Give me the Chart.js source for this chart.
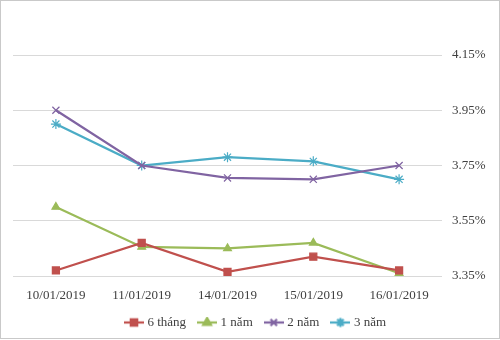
<!DOCTYPE html>
<html>
<head>
<meta charset="utf-8">
<script src="https://cdn.jsdelivr.net/npm/chart.js@4"></script>
<style>
  html, body { margin: 0; padding: 0; background: #fff; }
  #wrap { position: relative; width: 500px; height: 340px; }
  #frame { position: absolute; left: 0; top: 0; width: 498px; height: 337px; border: 1px solid #c9c9c9; pointer-events: none; }
</style>
</head>
<body>
<div id="wrap">
  <canvas id="c" width="500" height="340"></canvas>
  <div id="frame"></div>
</div>
<script>
// Dates of the quotes
const categories = ['10/01/2019', '11/01/2019', '14/01/2019', '15/01/2019', '16/01/2019'];
// Yields by tenor (%)
const sixMonths = [3.37, 3.47, 3.365, 3.42, 3.37];
const oneYear   = [3.60, 3.455, 3.45, 3.47, 3.36];
const twoYears  = [3.95, 3.75, 3.705, 3.70, 3.75];
const threeYears = [3.90, 3.75, 3.78, 3.765, 3.70];
// Right-hand axis ticks
const yTicks = [3.35, 3.55, 3.75, 3.95, 4.15];

const FONT = "'Liberation Serif', 'Times New Roman', serif";
const TEXT = '#404040';

// Legend icon: short line with the series marker in the middle
function legendIcon(color, style) {
  const cv = document.createElement('canvas');
  cv.width = 20; cv.height = 12;
  const g = cv.getContext('2d');
  g.strokeStyle = color; g.fillStyle = color; g.lineWidth = 2.25;
  g.beginPath(); g.moveTo(0, 6); g.lineTo(20, 6); g.stroke();
  Chart.helpers.drawPoint(g, { pointStyle: style, radius: 4.5, borderWidth: 1.2 }, 10, 6);
  if (style === 'rect' || style === 'triangle') g.fill();
  return cv;
}

const series = [
  { label: '6 tháng', data: sixMonths, color: '#C0504D', style: 'rect', radius: 5 },
  { label: '1 năm', data: oneYear, color: '#9BBB59', style: 'triangle', radius: 4.5 },
  { label: '2 năm', data: twoYears, color: '#8064A2', style: 'crossRot', radius: 5 },
  { label: '3 năm', data: threeYears, color: '#4BACC6', style: 'star', radius: 5 }
];

new Chart(document.getElementById('c'), {
  type: 'line',
  data: {
    labels: categories,
    datasets: series.map(s => ({
      label: s.label,
      data: s.data,
      borderColor: s.color,
      backgroundColor: s.color,
      pointBackgroundColor: s.color,
      pointBorderColor: s.color,
      borderWidth: 2.25,
      pointStyle: s.style,
      pointRadius: s.radius,
      pointBorderWidth: 1.2,
      tension: 0,
      icon: legendIcon(s.color, s.style)
    }))
  },
  options: {
    responsive: false,
    animation: false,
    layout: { padding: { top: 55, left: 13, right: 0, bottom: 1 } },
    plugins: {
      tooltip: { enabled: false },
      legend: {
        position: 'bottom',
        labels: {
          usePointStyle: true,
          pointStyleWidth: 14,
          padding: 14,
          color: TEXT,
          font: { family: FONT, size: 13 },
          generateLabels(chart) {
            return chart.data.datasets.map((d, i) => ({
              text: d.label,
              pointStyle: d.icon,
              fillStyle: d.borderColor,
              strokeStyle: d.borderColor,
              lineWidth: 0,
              fontColor: TEXT,
              datasetIndex: i,
              hidden: false
            }));
          }
        }
      }
    },
    scales: {
      x: {
        offset: true,
        grid: { display: false, drawTicks: false },
        border: { display: false },
        ticks: { color: TEXT, font: { family: FONT, size: 13 }, padding: 12, maxRotation: 0 },
        afterFit(scale) { scale.height = 26; }
      },
      y: {
        position: 'right',
        min: 3.35,
        max: 4.15,
        grid: { color: '#d9d9d9', lineWidth: 1, drawTicks: false },
        border: { display: false },
        afterBuildTicks(scale) { scale.ticks = yTicks.map(v => ({ value: v })); },
        afterFit(scale) { scale.width = 58; },
        ticks: {
          color: TEXT,
          font: { family: FONT, size: 13 },
          padding: 10,
          callback: v => v.toFixed(2) + '%'
        }
      }
    }
  }
});
</script>
</body>
</html>
